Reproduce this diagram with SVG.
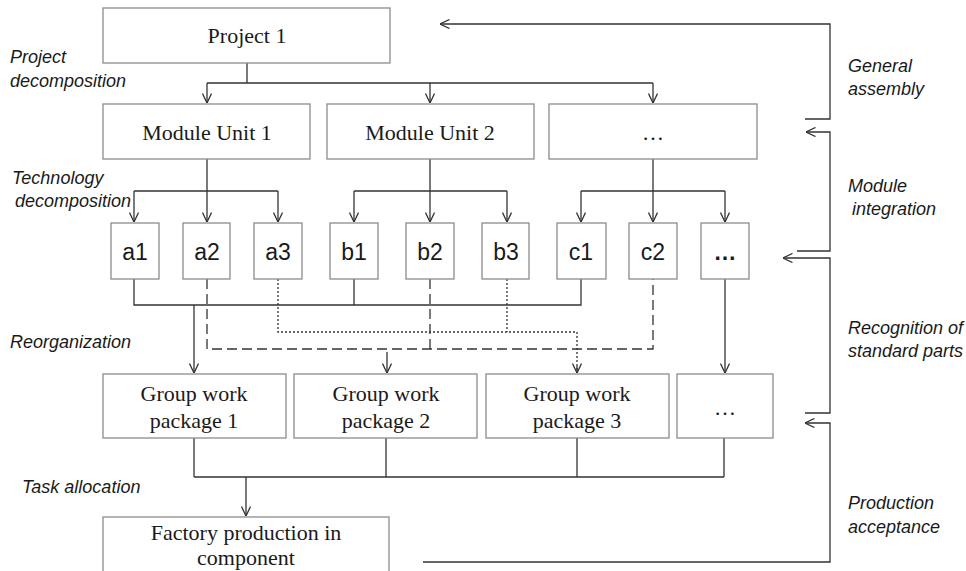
<svg xmlns="http://www.w3.org/2000/svg" width="966" height="571" viewBox="0 0 966 571">
<style>
.box{fill:#fff;stroke:#8c8c8c;stroke-width:1.3}
.t{font-family:"Liberation Serif",serif;font-size:22px;fill:#1a1a1a;text-anchor:middle}
.s{font-family:"Liberation Sans",Arial,sans-serif;font-size:23px;fill:#1a1a1a;text-anchor:middle}
.lab{font-family:"Liberation Sans",Arial,sans-serif;font-size:18px;font-style:italic;fill:#1a1a1a}
.c{fill:none;stroke:#333;stroke-width:1.3}
.dash{stroke-dasharray:10 5}
.dot{stroke-dasharray:2 2}
</style>
<defs>
<marker id="ah" viewBox="0 0 10 10" refX="10" refY="5" markerWidth="10" markerHeight="10" markerUnits="userSpaceOnUse" orient="auto">
<path d="M0.5,0.5 L10,5 L0.5,9.5" fill="none" stroke="#333" stroke-width="1.3"/>
</marker>
</defs>
<rect width="966" height="571" fill="#fff"/>

<g id="connectors">
<path class="c" d="M247,63 V83 M207,83 H653"/>
<path class="c" d="M207,83 V103" marker-end="url(#ah)"/>
<path class="c" d="M430,83 V103" marker-end="url(#ah)"/>
<path class="c" d="M653,83 V103" marker-end="url(#ah)"/>
<path class="c" d="M207,159 V191 M134,191 H278 M430,159 V191 M354,191 H507 M653,159 V191 M581,191 H725"/>
<path class="c" d="M134,191 V222" marker-end="url(#ah)"/>
<path class="c" d="M207,191 V222" marker-end="url(#ah)"/>
<path class="c" d="M278,191 V222" marker-end="url(#ah)"/>
<path class="c" d="M354,191 V222" marker-end="url(#ah)"/>
<path class="c" d="M430,191 V222" marker-end="url(#ah)"/>
<path class="c" d="M507,191 V222" marker-end="url(#ah)"/>
<path class="c" d="M581,191 V222" marker-end="url(#ah)"/>
<path class="c" d="M653,191 V222" marker-end="url(#ah)"/>
<path class="c" d="M725,191 V222" marker-end="url(#ah)"/>
<path class="c" d="M134,279 V305 H194 M194,305 H581 V279 M354,279 V305"/>
<path class="c" d="M194,305 V373" marker-end="url(#ah)"/>
<path class="c dash" d="M207,279 V349 H653 V279 M430,279 V349"/>
<path class="c" d="M387,352 V373" marker-end="url(#ah)"/>
<path class="c dot" d="M278,279 V332 H577 M507,279 V332"/>
<path class="c dot" d="M577,332 V373"/>
<path class="c" d="M577,366 V373" marker-end="url(#ah)"/>
<path class="c" d="M725,279 V373" marker-end="url(#ah)"/>
<path class="c" d="M194,438 V477 M386,438 V477 M577,438 V477 M724,438 V477 M194,477 H724"/>
<path class="c" d="M246,477 V516" marker-end="url(#ah)"/>
<path class="c" d="M805,119 H830 V24 H440" marker-end="url(#ah)"/>
<path class="c" d="M797,251 H830 V132 H806" marker-end="url(#ah)"/>
<path class="c" d="M805,413 H830 V258 H783" marker-end="url(#ah)"/>
<path class="c" d="M423,562 H830 V423 H805" marker-end="url(#ah)"/>
</g>

<g id="project1"><rect class="box" x="103" y="8" width="287" height="55"/><text class="t" x="247" y="43">Project 1</text></g>
<g id="module1"><rect class="box" x="103" y="104" width="207" height="55"/><text class="t" x="207" y="140">Module Unit 1</text></g>
<g id="module2"><rect class="box" x="327" y="104" width="207" height="55"/><text class="t" x="430" y="140">Module Unit 2</text></g>
<g id="module3"><rect class="box" x="549" y="104" width="208" height="55"/><text class="t" x="653" y="140" fill="#555">…</text></g>

<g id="a1"><rect class="box" x="111" y="223" width="48" height="56"/><text class="s" x="135" y="260">a1</text></g>
<g id="a2"><rect class="box" x="183" y="223" width="47" height="56"/><text class="s" x="207" y="260">a2</text></g>
<g id="a3"><rect class="box" x="254" y="223" width="48" height="56"/><text class="s" x="278" y="260">a3</text></g>
<g id="b1"><rect class="box" x="330" y="223" width="48" height="56"/><text class="s" x="354" y="260">b1</text></g>
<g id="b2"><rect class="box" x="406" y="223" width="48" height="56"/><text class="s" x="430" y="260">b2</text></g>
<g id="b3"><rect class="box" x="482" y="223" width="47" height="56"/><text class="s" x="506" y="260">b3</text></g>
<g id="c1"><rect class="box" x="557" y="223" width="49" height="56"/><text class="s" x="581" y="260">c1</text></g>
<g id="c2"><rect class="box" x="629" y="223" width="48" height="56"/><text class="s" x="653" y="260">c2</text></g>
<g id="cx"><rect class="box" x="701" y="223" width="48" height="56"/><text class="s" x="725" y="260" font-weight="bold">…</text></g>

<g id="gwp1"><rect class="box" x="103" y="374" width="183" height="64"/><text class="t" x="194" y="401">Group work</text><text class="t" x="194" y="428">package 1</text></g>
<g id="gwp2"><rect class="box" x="294" y="374" width="183" height="64"/><text class="t" x="386" y="401">Group work</text><text class="t" x="386" y="428">package 2</text></g>
<g id="gwp3"><rect class="box" x="486" y="374" width="183" height="64"/><text class="t" x="577" y="401">Group work</text><text class="t" x="577" y="428">package 3</text></g>
<g id="gwp4"><rect class="box" x="677" y="374" width="96" height="64"/><text class="t" x="725" y="415" fill="#555">…</text></g>

<g id="factory"><rect class="box" x="103" y="517" width="286" height="80"/><text class="t" x="246" y="540">Factory production in</text><text class="t" x="246" y="565">component</text></g>

<g id="labels">
<text class="lab" x="10" y="63">Project</text>
<text class="lab" x="10" y="87">decomposition</text>
<text class="lab" x="12" y="184">Technology</text>
<text class="lab" x="15" y="207">decomposition</text>
<text class="lab" x="10" y="348">Reorganization</text>
<text class="lab" x="22" y="493">Task allocation</text>
<text class="lab" x="848" y="72">General</text>
<text class="lab" x="848" y="95">assembly</text>
<text class="lab" x="848" y="192">Module</text>
<text class="lab" x="852" y="215">integration</text>
<text class="lab" x="848" y="334">Recognition of</text>
<text class="lab" x="848" y="357">standard parts</text>
<text class="lab" x="848" y="509">Production</text>
<text class="lab" x="848" y="533">acceptance</text>
</g>
</svg>
